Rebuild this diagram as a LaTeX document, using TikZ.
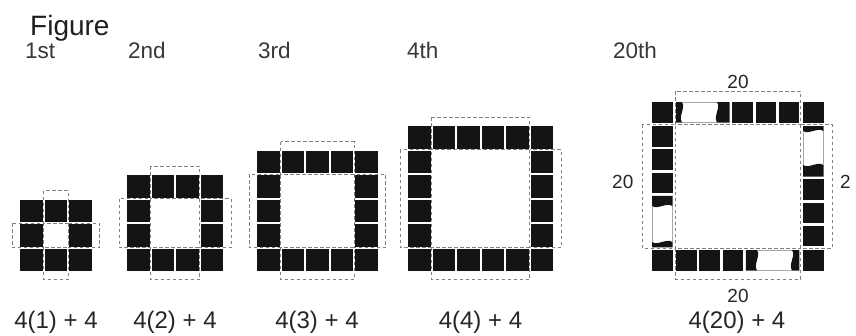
\documentclass[tikz,border=0pt]{standalone}
\usepackage{fontspec}
\setmainfont{Liberation Sans}
\newcommand\ringfig[3]{%
  \pgfmathtruncatemacro\rlast{#1-1}%
  \pgfmathtruncatemacro\rmid{#1-2}%
  \foreach \i in {0,...,\rlast}{%
    \fill[cell] ({#2+24.5*\i},{#3}) rectangle ++(22.5,22.5);
    \fill[cell] ({#2+24.5*\i},{#3+24.5*\rlast}) rectangle ++(22.5,22.5);
  }%
  \foreach \j in {1,...,\rmid}{%
    \fill[cell] ({#2},{#3+24.5*\j}) rectangle ++(22.5,22.5);
    \fill[cell] ({#2+24.5*\rlast},{#3+24.5*\j}) rectangle ++(22.5,22.5);
  }%
  \pgfmathsetmacro\rxa{#2+23.5}%
  \pgfmathsetmacro\rxb{#2+24.5*\rlast-1}%
  \pgfmathsetmacro\rya{#3+23.5}%
  \pgfmathsetmacro\ryb{#3+24.5*\rlast-1}%
  \pgfmathsetmacro\rxo{#2-8}%
  \pgfmathsetmacro\rxe{#2+24.5*\rlast+22.5+8}%
  \pgfmathsetmacro\ryo{#3-9}%
  \pgfmathsetmacro\rye{#3+24.5*\rlast+22.5+8.5}%
  \draw[grp] (\rxa,\ryo) rectangle (\rxb,\rya);
  \draw[grp] (\rxa,\ryb) rectangle (\rxb,\rye);
  \draw[grp] (\rxo,\rya) rectangle (\rxa,\ryb);
  \draw[grp] (\rxb,\rya) rectangle (\rxe,\ryb);
}
\begin{document}
\begin{tikzpicture}[x=1pt,y=-1pt,
  cell/.style={fill=black!92},
  grp/.style={draw=black!50, line width=0.8pt, dash pattern=on 3.5pt off 2.5pt},
  brk/.style={draw=black!35, line width=0.5pt},
  ttl/.style={anchor=base west, inner sep=0pt, text=black!88, font=\fontsize{28}{30}\selectfont},
  ord/.style={anchor=base west, inner sep=0pt, text=black!78, font=\fontsize{22.5}{24}\selectfont},
  frm/.style={anchor=base, inner sep=0pt, text=black!85, font=\fontsize{24}{26}\selectfont},
  dimlab/.style={inner sep=0pt, text=black!85, font=\fontsize{19}{21}\selectfont}]
\useasboundingbox[fill=white] (0,0) rectangle (856,335);

% titles
\node[ttl] (title) at (30,35) {Figure};
\node[ord] (o1) at (25,58) {1st};
\node[ord] (o2) at (128,58) {2nd};
\node[ord] (o3) at (258,58) {3rd};
\node[ord] (o4) at (407,58) {4th};
\node[ord] (o20) at (613,58) {20th};

% figures 1-4
\ringfig{3}{20}{199.5}
\ringfig{4}{127}{175}
\ringfig{5}{257}{150.5}
\ringfig{6}{408}{126}

% figure 20: corners
\fill[cell] (652,102) rectangle (672.5,122.5);
\fill[cell] (803,102) rectangle (823.5,122.5);
\fill[cell] (652,250) rectangle (672.5,270.5);
\fill[cell] (803,250) rectangle (823.5,270.5);
% top row
\foreach \x in {732.3,755.6,778.9} \fill[cell] (\x,102) rectangle ++(20.5,20.5);
\fill[cell] (676,102) -- (682,102) .. controls (686,108) and (678,116) .. (682,122.5) -- (676,122.5) -- cycle;
\fill[cell] (729.5,102) -- (717,102) .. controls (721,108) and (713,116) .. (717,122.5) -- (729.5,122.5) -- cycle;
\draw[brk] (682,102) -- (717,102) (682,122.5) -- (717,122.5);
% bottom row
\foreach \x in {676,699.3,722.6} \fill[cell] (\x,250) rectangle ++(20.5,20.5);
\fill[cell] (745.9,250) -- (757,250) .. controls (761,256) and (753,264) .. (757,270.5) -- (745.9,270.5) -- cycle;
\fill[cell] (799.4,250) -- (792,250) .. controls (796,256) and (788,264) .. (792,270.5) -- (799.4,270.5) -- cycle;
\draw[brk] (757,250) -- (792,250) (757,270.5) -- (792,270.5);
% left column
\foreach \y in {126,149.3,172.6} \fill[cell] (652,\y) rectangle ++(20.5,20.5);
\fill[cell] (652,195.9) -- (652,206) .. controls (658,210) and (666,202) .. (672.5,206) -- (672.5,195.9) -- cycle;
\fill[cell] (652,247.4) -- (652,242) .. controls (658,246) and (666,238) .. (672.5,242) -- (672.5,247.4) -- cycle;
\draw[brk] (652,206) -- (652,242) (672.5,206) -- (672.5,242);
% right column
\foreach \y in {179.3,202.6,225.9} \fill[cell] (803,\y) rectangle ++(20.5,20.5);
\fill[cell] (803,126) -- (803,131) .. controls (809,135) and (817,127) .. (823.5,131) -- (823.5,126) -- cycle;
\fill[cell] (803,176.5) -- (803,165) .. controls (809,169) and (817,161) .. (823.5,165) -- (823.5,176.5) -- cycle;
\draw[brk] (803,131) -- (803,165) (823.5,131) -- (823.5,165);
% dashed groups
\draw[grp] (675.5,91) rectangle (800.5,124.5);
\draw[grp] (675.5,248) rectangle (800.5,279);
\draw[grp] (642,124.5) rectangle (675.5,248);
\draw[grp] (800.5,124.5) rectangle (832,248);

% dimension labels
\node[dimlab, anchor=base] (dtop) at (738,88) {20};
\node[dimlab, anchor=base west] (dleft) at (612,188.5) {20};
\node[dimlab, anchor=base west] (dright) at (840,188.5) {2};
\node[dimlab, anchor=base] (dbot) at (738,302) {20};

% formulas
\node[frm] (f1) at (56,328) {4(1) + 4};
\node[frm] (f2) at (175,328) {4(2) + 4};
\node[frm] (f3) at (317,328) {4(3) + 4};
\node[frm] (f4) at (480.5,328) {4(4) + 4};
\node[frm] (f20) at (737,328) {4(20) + 4};
\end{tikzpicture}
\end{document}
